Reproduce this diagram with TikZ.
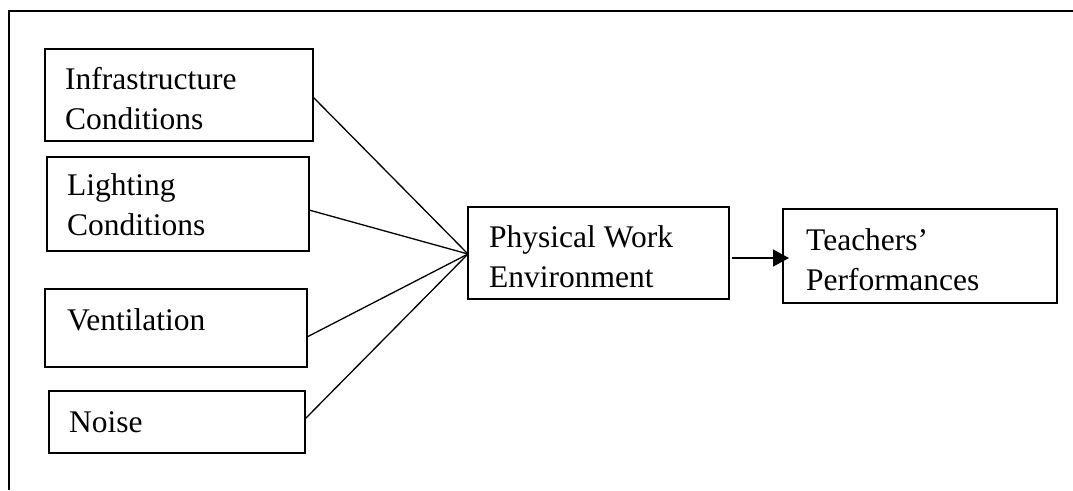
\documentclass[tikz,border=0pt]{standalone}
\usepackage{fontspec}
\setmainfont{Liberation Serif}
\usetikzlibrary{arrows.meta}
\begin{document}
\begin{tikzpicture}[x=1pt,y=-1pt,
  box/.style={draw,line width=1.4pt,inner sep=0pt,outer sep=0pt,anchor=north west},
  txt/.style={anchor=base west,inner sep=0pt,font=\fontsize{31.5}{41}\selectfont},
  link/.style={line width=1.3pt},
  arr/.style={line width=1.3pt,-{Triangle[length=16pt,width=17pt]}}]
\useasboundingbox (0,0) rectangle (1073,490);
\draw[line width=1.4pt] (9,490) -- (9,11) -- (1073,11);
% boxes
\node[box,minimum width=268pt,minimum height=92pt] (b1) at (45,49) {};
\node[box,minimum width=262pt,minimum height=94pt] (b2) at (47,157) {};
\node[box,minimum width=262pt,minimum height=78pt] (b3) at (45,289) {};
\node[box,minimum width=256pt,minimum height=62pt] (b4) at (49,391) {};
\node[box,minimum width=261pt,minimum height=92pt] (pwe) at (468,207) {};
\node[box,minimum width=274pt,minimum height=94pt] (tp) at (783,209) {};
% texts
\node[txt] (t1a) at (65,89) {Infrastructure};
\node[txt] (t1b) at (65,129) {Conditions};
\node[txt] (t2a) at (67,195) {Lighting};
\node[txt] (t2b) at (67,235) {Conditions};
\node[txt] (t3) at (67,330) {Ventilation};
\node[txt] (t4) at (69,432) {Noise};
\node[txt] (t5a) at (489,247) {Physical Work};
\node[txt] (t5b) at (489,287) {Environment};
\node[txt] (t6a) at (806,250) {Teachers’};
\node[txt] (t6b) at (806,290) {Performances};
% connectors
\draw[link] ([yshift=-2pt]b1.east) -- ([yshift=-1pt]pwe.west);
\draw[link] ([yshift=-6pt]b2.east) -- ([yshift=-1pt]pwe.west);
\draw[link] ([yshift=-9pt]b3.east) -- ([yshift=-1pt]pwe.west);
\draw[link] ([yshift=3pt]b4.east) -- ([yshift=-1pt]pwe.west);
\draw[arr] ([xshift=3pt,yshift=-5pt]pwe.east) -- ([xshift=6pt,yshift=-2pt]tp.west);
\end{tikzpicture}
\end{document}
